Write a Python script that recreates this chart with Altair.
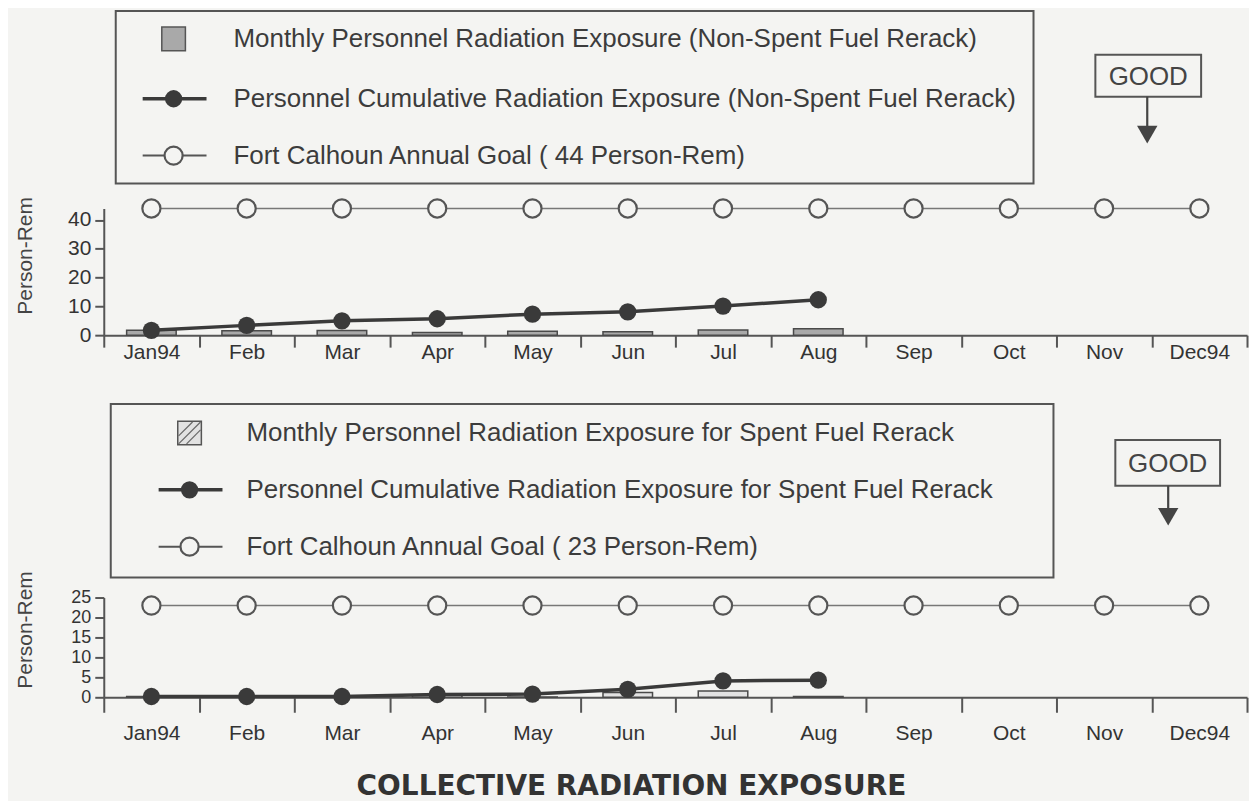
import altair as alt
import pandas as pd

# ---------------- data ----------------
months = ["Jan94", "Feb", "Mar", "Apr", "May", "Jun", "Jul", "Aug",
          "Sep", "Oct", "Nov", "Dec94"]
months_reported = ["Jan94", "Feb", "Mar", "Apr", "May", "Jun", "Jul", "Aug"]

top_monthly = [1.7, 1.5, 1.6, 0.9, 1.4, 1.2, 1.8, 2.2]
top_cumulative = [1.7, 3.4, 5.0, 5.7, 7.3, 8.1, 10.1, 12.3]
top_goal = [44, 44, 44, 44, 44, 44, 44, 44, 44, 44, 44, 44]

bot_monthly = [0.2, 0.0, 0.0, 0.5, 0.1, 1.2, 1.6, 0.2]
bot_cumulative = [0.2, 0.2, 0.2, 0.7, 0.8, 2.0, 4.1, 4.3]
bot_goal = [23, 23, 23, 23, 23, 23, 23, 23, 23, 23, 23, 23]

top_legend = [
    "Monthly Personnel Radiation Exposure (Non-Spent Fuel Rerack)",
    "Personnel Cumulative Radiation Exposure (Non-Spent Fuel Rerack)",
    "Fort Calhoun Annual Goal ( 44 Person-Rem)",
]
bot_legend = [
    "Monthly Personnel Radiation Exposure for Spent Fuel Rerack",
    "Personnel Cumulative Radiation Exposure for Spent Fuel Rerack",
    "Fort Calhoun Annual Goal ( 23 Person-Rem)",
]
y_title = "Person-Rem"
good_text = "GOOD"
main_title = "COLLECTIVE RADIATION EXPOSURE"

FONT = "Liberation Sans"
BG = "#f4f4f2"
INK = "#3a3a3a"
PLOT_W = 1146


def panel(monthly, cumulative, goal, height, ymax, yticks, legend_labels,
          geo, title_y, bar_fill, tick_size, label_pad, hatch, ylab_size):
    df_bar = pd.DataFrame({"month": months_reported, "value": monthly})
    df_cum = pd.DataFrame({"month": months_reported, "value": cumulative})
    df_goal = pd.DataFrame({"month": months, "value": goal})
    one = pd.DataFrame({"k": [0]})

    xaxis = alt.Axis(title=None, tickBand="extent", labelAngle=0,
                     tickSize=tick_size, labelPadding=label_pad,
                     labelFontSize=21)
    xenc = alt.X("month:N", sort=months,
                 scale=alt.Scale(domain=months, paddingInner=0, paddingOuter=0),
                 axis=xaxis)
    yaxis = alt.Axis(values=yticks, title=y_title, titleAngle=270,
                     titleX=-78, titleY=title_y, titleBaseline="middle",
                     labelOverlap=False, labelFontSize=ylab_size)
    yenc = alt.Y("value:Q", scale=alt.Scale(domain=[0, ymax], nice=False,
                                           zero=True), axis=yaxis)

    bars = alt.Chart(df_bar).mark_bar(
        width=alt.RelativeBandSize(0.52), fill=bar_fill, stroke="#4a4a4a",
        strokeWidth=1.5).encode(x=xenc, y=yenc)
    goal_line = alt.Chart(df_goal).mark_line(
        color="#777", strokeWidth=1.6).encode(x=xenc, y=yenc)
    goal_pts = alt.Chart(df_goal).mark_point(
        shape="circle", size=330, filled=True, fill=BG, stroke="#555",
        strokeWidth=2.2, opacity=1).encode(x=xenc, y=yenc)
    cum_line = alt.Chart(df_cum).mark_line(
        color=INK, strokeWidth=3.5).encode(x=xenc, y=yenc)
    cum_pts = alt.Chart(df_cum).mark_point(
        shape="circle", size=300, filled=True, color=INK,
        opacity=1).encode(x=xenc, y=yenc)

    g = geo
    deco = []
    # legend frame
    deco.append(alt.Chart(one).mark_rect(
        fillOpacity=0, stroke="#555", strokeWidth=2).encode(
        x=alt.value(g["box"][0]), x2=alt.value(g["box"][1]),
        y=alt.value(g["box"][2]), y2=alt.value(g["box"][3])))
    # legend symbol 1: square
    deco.append(alt.Chart(one).mark_point(
        shape="square", size=560, filled=True, fill=bar_fill, stroke="#555",
        strokeWidth=1.5, opacity=1).encode(
        x=alt.value(g["sym"]), y=alt.value(g["rows"][0])))
    if hatch:
        sx, sy = g["sym"], g["rows"][0]
        for d in (-8, 0, 8):
            deco.append(alt.Chart(one).mark_rule(
                color="#666", strokeWidth=1.2).encode(
                x=alt.value(sx - 11 + max(d, 0)), y=alt.value(sy + 11 - max(-d, 0)),
                x2=alt.value(sx + 11 - max(-d, 0)), y2=alt.value(sy - 11 + max(d, 0))))
    # legend symbol 2: line + filled dot
    deco.append(alt.Chart(one).mark_rule(color=INK, strokeWidth=3.5).encode(
        x=alt.value(g["sym"] - 31), x2=alt.value(g["sym"] + 33),
        y=alt.value(g["rows"][1])))
    deco.append(alt.Chart(one).mark_point(
        shape="circle", size=300, filled=True, color=INK, opacity=1).encode(
        x=alt.value(g["sym"]), y=alt.value(g["rows"][1])))
    # legend symbol 3: line + open circle
    deco.append(alt.Chart(one).mark_rule(color="#555", strokeWidth=2).encode(
        x=alt.value(g["sym"] - 31), x2=alt.value(g["sym"] + 33),
        y=alt.value(g["rows"][2])))
    deco.append(alt.Chart(one).mark_point(
        shape="circle", size=330, filled=True, fill=BG, stroke="#555",
        strokeWidth=2.2, opacity=1).encode(
        x=alt.value(g["sym"]), y=alt.value(g["rows"][2])))
    for label, ry in zip(legend_labels, g["rows"]):
        deco.append(alt.Chart(one).mark_text(
            text=label, align="left", baseline="middle", font=FONT,
            fontSize=26, color="#3c3c3c").encode(
            x=alt.value(g["text"]), y=alt.value(ry)))
    # GOOD box and arrow
    gb = g["good"]
    deco.append(alt.Chart(one).mark_rect(
        fillOpacity=0, stroke="#555", strokeWidth=2).encode(
        x=alt.value(gb[0]), x2=alt.value(gb[1]),
        y=alt.value(gb[2]), y2=alt.value(gb[3])))
    deco.append(alt.Chart(one).mark_text(
        text=good_text, align="center", baseline="middle", font=FONT,
        fontSize=26, color="#444").encode(
        x=alt.value((gb[0] + gb[1]) / 2), y=alt.value((gb[2] + gb[3]) / 2 + 1)))
    deco.append(alt.Chart(one).mark_rule(color="#444", strokeWidth=2.2).encode(
        x=alt.value(g["arrow_x"]), y=alt.value(gb[3]),
        y2=alt.value(g["arrow_tip"] - 14)))
    deco.append(alt.Chart(one).mark_point(
        shape="triangle-down", size=420, filled=True, color="#444",
        opacity=1).encode(x=alt.value(g["arrow_x"]),
                          y=alt.value(g["arrow_tip"] - 9)))

    return alt.layer(bars, goal_line, goal_pts, cum_line, cum_pts,
                     *deco).properties(width=PLOT_W, height=height)


top_geo = {
    "box": [12, 932, -198, -25],
    "sym": 70,
    "rows": [-170, -110, -53],
    "text": 130,
    "good": [994, 1100, -154, -112],
    "arrow_x": 1046,
    "arrow_tip": -65,
}
bot_geo = {
    "box": [7, 952, -194, -20],
    "sym": 86,
    "rows": [-165, -108, -51],
    "text": 143,
    "good": [1014, 1119, -158, -112],
    "arrow_x": 1067,
    "arrow_tip": -72,
}

top = panel(top_monthly, top_cumulative, top_goal, 127, 44,
            [0, 10, 20, 30, 40], top_legend, top_geo, 47, "#a9a9a9",
            12, -6, False, 21)
bottom = panel(bot_monthly, bot_cumulative, bot_goal, 100, 25,
               [0, 5, 10, 15, 20, 25], bot_legend, bot_geo, 32, "#e2e2e2",
               15, 10, True, 18)

chart = alt.vconcat(top, bottom, spacing=39).properties(
    title=alt.TitleParams(text=main_title, orient="bottom", anchor="middle",
                          font="DejaVu Sans", fontSize=28, fontWeight="bold",
                          color="#333", offset=29),
    padding={"left": 6, "top": 0, "right": 0, "bottom": 0},
    background=BG,
).configure_view(stroke="transparent").configure_axis(
    grid=False, domainColor="#555", domainWidth=2, tickColor="#555",
    tickWidth=2, labelFont=FONT, labelColor="#333", titleFont=FONT,
    titleFontSize=21, titleFontWeight="normal", titleColor="#444",
).configure_axisY(labelPadding=4, tickSize=9)

chart.save("out.html", embed_options={"renderer": "svg", "actions": False})
